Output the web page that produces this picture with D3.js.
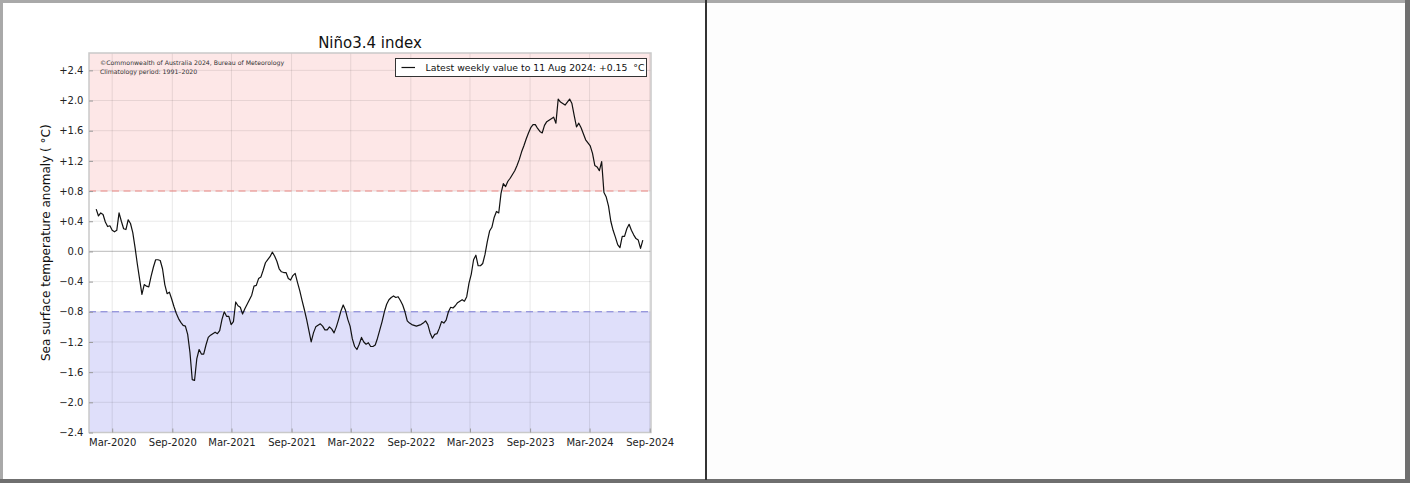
<!DOCTYPE html>
<html>
<head>
<meta charset="utf-8">
<script src="https://cdn.jsdelivr.net/npm/d3@7"></script>
<style>
  html, body { margin: 0; padding: 0; background: #fdfdfd; }
  svg { display: block; font-family: "DejaVu Sans", sans-serif; }
</style>
</head>
<body>
<svg id="chart" width="1410" height="483"></svg>
<script>
// Weekly Niño3.4 SST anomaly (°C), weeks ending Sunday, from 12 Jan 2020 to 11 Aug 2024
const seriesStart = "2020-01-12";
const ninoValues = [
  0.56, 0.47, 0.51, 0.49, 0.39, 0.33, 0.34, 0.28, 0.26, 0.28,
  0.51, 0.40, 0.30, 0.29, 0.42, 0.37, 0.25, 0.05, -0.17, -0.37,
  -0.57, -0.44, -0.46, -0.47, -0.33, -0.21, -0.11, -0.11, -0.12, -0.23,
  -0.44, -0.56, -0.54, -0.63, -0.73, -0.82, -0.89, -0.94, -0.98, -0.99,
  -1.10, -1.34, -1.70, -1.71, -1.42, -1.30, -1.36, -1.36, -1.24, -1.14,
  -1.11, -1.09, -1.07, -1.09, -1.05, -0.90, -0.80, -0.86, -0.86, -0.97,
  -0.93, -0.67, -0.72, -0.74, -0.83, -0.76, -0.70, -0.64, -0.58, -0.46,
  -0.45, -0.36, -0.34, -0.25, -0.15, -0.11, -0.07, -0.01, -0.06, -0.13,
  -0.23, -0.27, -0.28, -0.28, -0.36, -0.38, -0.32, -0.29, -0.41, -0.52,
  -0.65, -0.77, -0.90, -1.05, -1.20, -1.08, -1.00, -0.98, -0.96, -0.99,
  -1.04, -1.04, -1.00, -1.03, -1.08, -1.00, -0.90, -0.79, -0.71, -0.78,
  -0.90, -0.99, -1.16, -1.26, -1.30, -1.23, -1.14, -1.20, -1.23, -1.21,
  -1.26, -1.26, -1.24, -1.15, -1.04, -0.93, -0.80, -0.70, -0.64, -0.61,
  -0.59, -0.61, -0.60, -0.65, -0.71, -0.80, -0.92, -0.95, -0.97, -0.98,
  -0.99, -0.98, -0.97, -0.95, -0.92, -0.97, -1.08, -1.15, -1.10, -1.09,
  -1.02, -0.93, -0.95, -0.91, -0.80, -0.74, -0.75, -0.72, -0.68, -0.66,
  -0.64, -0.66, -0.60, -0.42, -0.30, -0.11, -0.05, -0.19, -0.19, -0.16,
  -0.04, 0.13, 0.27, 0.32, 0.45, 0.53, 0.51, 0.77, 0.90, 0.86,
  0.93, 0.97, 1.02, 1.07, 1.14, 1.22, 1.32, 1.40, 1.49, 1.57,
  1.64, 1.68, 1.68, 1.63, 1.59, 1.57, 1.67, 1.72, 1.74, 1.76,
  1.78, 1.70, 2.02, 1.98, 1.96, 1.94, 1.98, 2.02, 1.96, 1.80,
  1.65, 1.70, 1.64, 1.56, 1.48, 1.44, 1.40, 1.30, 1.14, 1.12,
  1.07, 1.19, 0.78, 0.72, 0.60, 0.40, 0.28, 0.19, 0.09, 0.05,
  0.20, 0.20, 0.30, 0.36, 0.28, 0.22, 0.17, 0.15, 0.04, 0.15
];
const xTickDates = ["2020-03-01", "2020-09-01", "2021-03-01", "2021-09-01", "2022-03-01",
                    "2022-09-01", "2023-03-01", "2023-09-01", "2024-03-01", "2024-09-01"];
const yTicks = [2.4, 2.0, 1.6, 1.2, 0.8, 0.4, 0.0, -0.4, -0.8, -1.2, -1.6, -2.0, -2.4];
const elNinoThreshold = 0.8;
const laNinaThreshold = -0.8;
const xDomain = ["2019-12-21", "2024-09-05"];
const yDomain = [-2.4, 2.63];
const titleText = "Niño3.4 index";
const yLabelText = "Sea surface temperature anomaly ( °C)";
const legendText = "Latest weekly value to 11 Aug 2024: +0.15  °C";
const creditLines = ["©Commonwealth of Australia 2024, Bureau of Meteorology", "Climatology period: 1991–2020"];

const parse = d3.utcParse("%Y-%m-%d");
const start = parse(seriesStart);
const data = ninoValues.map((v, i) => ({ date: d3.utcWeek.offset(start, i), value: v }));

const svg = d3.select("#chart");
const W = 1410, H = 483;

// page frame
svg.append("rect").attr("x", 0).attr("y", 0).attr("width", W).attr("height", H).attr("fill", "#fdfdfd");
svg.append("rect").attr("x", 0).attr("y", 0).attr("width", W).attr("height", 3).attr("fill", "#a9a9a9");
svg.append("rect").attr("x", 0).attr("y", 0).attr("width", 3).attr("height", H).attr("fill", "#a9a9a9");
svg.append("rect").attr("x", 1405).attr("y", 0).attr("width", 5).attr("height", H).attr("fill", "#6f6f6f");
svg.append("rect").attr("x", 0).attr("y", 479).attr("width", W).attr("height", 4).attr("fill", "#6f6f6f");
svg.append("rect").attr("x", 705).attr("y", 0).attr("width", 2).attr("height", 480).attr("fill", "#333");
svg.append("rect").attr("x", 3).attr("y", 3).attr("width", 702).attr("height", 476).attr("fill", "#ffffff");

// plot area
const plot = { left: 89, right: 651, top: 53, bottom: 432.5 };
const x = d3.scaleUtc().domain(xDomain.map(parse)).range([plot.left, plot.right]);
const y = d3.scaleLinear().domain(yDomain).range([plot.bottom, plot.top]);

const g = svg.append("g");

// El Niño / La Niña shading
g.append("rect")
  .attr("x", plot.left).attr("width", plot.right - plot.left)
  .attr("y", y(yDomain[1])).attr("height", y(elNinoThreshold) - y(yDomain[1]))
  .attr("fill", "#fde7e7");
g.append("rect")
  .attr("x", plot.left).attr("width", plot.right - plot.left)
  .attr("y", y(laNinaThreshold)).attr("height", y(yDomain[0]) - y(laNinaThreshold))
  .attr("fill", "#dfdffa");

// grid
const xTicks = xTickDates.map(parse);
g.append("g").selectAll("line").data(xTicks).join("line")
  .attr("x1", d => x(d)).attr("x2", d => x(d))
  .attr("y1", plot.top).attr("y2", plot.bottom)
  .attr("stroke", "rgba(0,0,0,0.09)").attr("stroke-width", 1);
g.append("g").selectAll("line").data(yTicks).join("line")
  .attr("x1", plot.left).attr("x2", plot.right)
  .attr("y1", d => y(d)).attr("y2", d => y(d))
  .attr("stroke", d => d === 0 ? "rgba(0,0,0,0.22)" : "rgba(0,0,0,0.09)")
  .attr("stroke-width", d => d === 0 ? 1.2 : 1);

// threshold lines
g.append("line")
  .attr("x1", plot.left).attr("x2", plot.right)
  .attr("y1", y(elNinoThreshold)).attr("y2", y(elNinoThreshold))
  .attr("stroke", "#ec8a86").attr("stroke-width", 1.1).attr("stroke-dasharray", "7,4.5");
g.append("line")
  .attr("x1", plot.left).attr("x2", plot.right)
  .attr("y1", y(laNinaThreshold)).attr("y2", y(laNinaThreshold))
  .attr("stroke", "#7d7dd6").attr("stroke-width", 1.1).attr("stroke-dasharray", "7,4.5");

// plot frame
g.append("rect")
  .attr("x", plot.left).attr("y", plot.top)
  .attr("width", plot.right - plot.left).attr("height", plot.bottom - plot.top)
  .attr("fill", "none").attr("stroke", "#c9c9c9").attr("stroke-width", 1.5);

// axes
const fmtY = d => d > 0 ? "+" + d.toFixed(1) : d < 0 ? "\u2212" + Math.abs(d).toFixed(1) : "0.0";
const xAxis = d3.axisBottom(x).tickValues(xTicks).tickFormat(d3.utcFormat("%b-%Y"))
  .tickSizeInner(-4).tickSizeOuter(0).tickPadding(6);
const yAxis = d3.axisLeft(y).tickValues(yTicks).tickFormat(fmtY)
  .tickSizeInner(-4).tickSizeOuter(0).tickPadding(5.5);

const gx = svg.append("g").attr("transform", `translate(0,${plot.bottom})`).call(xAxis);
const gy = svg.append("g").attr("transform", `translate(${plot.left},0)`).call(yAxis);
[gx, gy].forEach(a => {
  a.select(".domain").remove();
  a.selectAll(".tick line").attr("stroke", "#9a9a9a");
  a.selectAll(".tick text").attr("fill", "#222").attr("font-size", 10)
    .attr("font-family", "DejaVu Sans, sans-serif");
});

// series line
const line = d3.line().x(d => x(d.date)).y(d => y(d.value));
svg.append("path").datum(data)
  .attr("d", line).attr("fill", "none")
  .attr("stroke", "#111").attr("stroke-width", 1.2).attr("stroke-linejoin", "round");

// title
svg.append("text").attr("x", (plot.left + plot.right) / 2).attr("y", 48)
  .attr("text-anchor", "middle").attr("font-size", 15).attr("fill", "#111").text(titleText);

// y axis label
svg.append("text")
  .attr("transform", `translate(50,${(plot.top + plot.bottom) / 2}) rotate(-90)`)
  .attr("text-anchor", "middle").attr("font-size", 12).attr("fill", "#111").text(yLabelText);

// credit lines
svg.append("g").selectAll("text").data(creditLines).join("text")
  .attr("x", 100).attr("y", (d, i) => 65 + i * 9)
  .attr("font-size", 6.2).attr("fill", "#333").text(d => d);

// legend
const lg = svg.append("g");
lg.append("rect").attr("x", 395.5).attr("y", 58.5).attr("width", 251).attr("height", 18)
  .attr("fill", "#fff").attr("stroke", "#333").attr("stroke-width", 1);
lg.append("line").attr("x1", 401.5).attr("x2", 415).attr("y1", 67.5).attr("y2", 67.5)
  .attr("stroke", "#111").attr("stroke-width", 1.2);
lg.append("text").attr("x", 425.5).attr("y", 71).attr("font-size", 9.3)
  .attr("xml:space", "preserve").style("white-space", "pre")
  .attr("fill", "#111").text(legendText);
</script>
</body>
</html>
